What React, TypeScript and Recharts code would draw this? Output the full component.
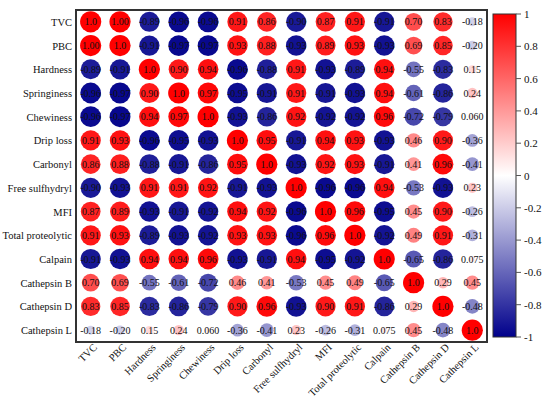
import React from "react";
import {
  ScatterChart, Scatter, XAxis, YAxis, CartesianGrid, ReferenceArea,
} from "recharts";

// variables, in the order used on both axes
const VARS = [
  "TVC", "PBC", "Hardness", "Springiness", "Chewiness", "Drip loss", "Carbonyl",
  "Free sulfhydryl", "MFI", "Total proteolytic", "Calpain", "Cathepsin B",
  "Cathepsin D", "Cathepsin L",
];

// correlation rows, as printed in the cells
const ROW_TVC = ["1.0", "1.00", "-0.89", "-0.96", "-0.96", "0.91", "0.86", "-0.90", "0.87", "0.91", "-0.91", "0.70", "0.83", "-0.18"];
const ROW_PBC = ["1.00", "1.0", "-0.91", "-0.97", "-0.97", "0.93", "0.88", "-0.93", "0.89", "0.93", "-0.93", "0.69", "0.85", "-0.20"];
const ROW_HARD = ["-0.89", "-0.91", "1.0", "0.90", "0.94", "-0.96", "-0.88", "0.91", "-0.93", "-0.89", "0.94", "-0.55", "-0.83", "0.15"];
const ROW_SPRING = ["-0.96", "-0.97", "0.90", "1.0", "0.97", "-0.95", "-0.91", "0.91", "-0.91", "-0.93", "0.94", "-0.61", "-0.86", "0.24"];
const ROW_CHEW = ["-0.96", "-0.97", "0.94", "0.97", "1.0", "-0.93", "-0.86", "0.92", "-0.92", "-0.92", "0.96", "-0.72", "-0.79", "0.060"];
const ROW_DRIP = ["0.91", "0.93", "-0.96", "-0.95", "-0.93", "1.0", "0.95", "-0.91", "0.94", "0.93", "-0.93", "0.46", "0.90", "-0.36"];
const ROW_CARB = ["0.86", "0.88", "-0.88", "-0.91", "-0.86", "0.95", "1.0", "-0.93", "0.92", "0.93", "-0.91", "0.41", "0.96", "-0.41"];
const ROW_SH = ["-0.90", "-0.93", "0.91", "0.91", "0.92", "-0.91", "-0.93", "1.0", "-0.96", "-0.96", "0.94", "-0.53", "-0.93", "0.23"];
const ROW_MFI = ["0.87", "0.89", "-0.93", "-0.91", "-0.92", "0.94", "0.92", "-0.96", "1.0", "0.96", "-0.95", "0.45", "0.90", "-0.26"];
const ROW_TP = ["0.91", "0.93", "-0.89", "-0.93", "-0.92", "0.93", "0.93", "-0.96", "0.96", "1.0", "-0.92", "0.49", "0.91", "-0.31"];
const ROW_CALP = ["-0.91", "-0.93", "0.94", "0.94", "0.96", "-0.93", "-0.91", "0.94", "-0.95", "-0.92", "1.0", "-0.65", "-0.86", "0.075"];
const ROW_CATB = ["0.70", "0.69", "-0.55", "-0.61", "-0.72", "0.46", "0.41", "-0.53", "0.45", "0.49", "-0.65", "1.0", "0.29", "0.45"];
const ROW_CATD = ["0.83", "0.85", "-0.83", "-0.86", "-0.79", "0.90", "0.96", "-0.93", "0.90", "0.91", "-0.86", "0.29", "1.0", "-0.48"];
const ROW_CATL = ["-0.18", "-0.20", "0.15", "0.24", "0.060", "-0.36", "-0.41", "0.23", "-0.26", "-0.31", "0.075", "0.45", "-0.48", "1.0"];

const ROWS = [ROW_TVC, ROW_PBC, ROW_HARD, ROW_SPRING, ROW_CHEW, ROW_DRIP, ROW_CARB,
  ROW_SH, ROW_MFI, ROW_TP, ROW_CALP, ROW_CATB, ROW_CATD, ROW_CATL];

const LEGEND_TICKS = [1, 0.8, 0.6, 0.4, 0.2, 0, -0.2, -0.4, -0.6, -0.8, -1];

const FONT = "Liberation Serif, Times New Roman, serif";
const R_MAX = 10.6;
const IDX = VARS.map((_, i) => i);
const EDGES = [...IDX.map((i) => i - 0.5), VARS.length - 0.5];

const data = ROWS.flatMap((row, i) =>
  row.map((label, j) => ({ x: j, y: i, v: parseFloat(label), label })),
);

function colorOf(v: number) {
  const a = Math.min(1, Math.abs(v));
  if (v >= 0) {
    const g = Math.round(255 * (1 - a));
    return `rgb(255,${g},${g})`;
  }
  const c = Math.round(255 * (1 - a));
  const b = Math.round(255 - (255 - 139) * a);
  return `rgb(${c},${c},${b})`;
}

const Cell = (props: any) => {
  const { cx, cy, payload } = props;
  const r = R_MAX * Math.sqrt(Math.abs(payload.v));
  return (
    <g>
      <circle cx={cx} cy={cy} r={r} fill={colorOf(payload.v)} />
      <text x={cx} y={cy} dy={3.5} textAnchor="middle" fontSize={10}
            fontFamily={FONT} fill="#111">{payload.label}</text>
    </g>
  );
};

const XTick = ({ x, y, payload }: any) => {
  const tx = x + 7;
  const ty = y + 6;
  return (
    <text x={tx} y={ty} transform={`rotate(-45 ${tx} ${ty})`} textAnchor="end"
          fontSize={10.5} fontFamily={FONT} fill="#111">{VARS[payload.value]}</text>
  );
};

const YTick = ({ x, y, payload }: any) => (
  <text x={x} y={y} dy={4} textAnchor="end" fontSize={10.5}
        fontFamily={FONT} fill="#111">{VARS[payload.value]}</text>
);

function ColorBar() {
  const top = 14, h = 323, left = 493, w = 23;
  const pos = (t: number) => top + ((1 - t) / 2) * h;
  return (
    <svg width={550} height={399} style={{ position: "absolute", left: 0, top: 0, pointerEvents: "none" }}>
      <defs>
        <linearGradient id="cbar" x1="0" y1="0" x2="0" y2="1">
          <stop offset="0%" stopColor={colorOf(1)} />
          <stop offset="50%" stopColor={colorOf(0)} />
          <stop offset="100%" stopColor={colorOf(-1)} />
        </linearGradient>
      </defs>
      <rect x={left} y={top} width={w} height={h} fill="url(#cbar)" stroke="#333" strokeWidth={1} />
      {LEGEND_TICKS.map((t) => (
        <g key={t}>
          <line x1={left + w} x2={left + w + 5} y1={pos(t)} y2={pos(t)} stroke="#555" />
          <text x={left + w + 8} y={pos(t)} dy={4} fontSize={11} fontFamily={FONT} fill="#111">{String(t)}</text>
        </g>
      ))}
    </svg>
  );
}

export default function App() {
  return (
    <div style={{ position: "absolute", left: 0, top: 0, width: 550, height: 399, background: "#fff" }}>
      <ScatterChart width={550} height={399} margin={{ top: 10, right: 63, bottom: 0, left: 0 }}>
        <XAxis xAxisId="edge" type="number" dataKey="x" domain={[-0.5, 13.5]} ticks={EDGES} hide />
        <YAxis yAxisId="edge" type="number" dataKey="y" domain={[-0.5, 13.5]} ticks={EDGES} reversed hide />
        <CartesianGrid xAxisId="edge" yAxisId="edge" stroke="#dcdcdc" />
        <XAxis type="number" dataKey="x" domain={[-0.5, 13.5]} ticks={IDX} interval={0}
               height={57} axisLine={false} tickLine={false} tickSize={0} tickMargin={0}
               tick={<XTick />} />
        <YAxis type="number" dataKey="y" domain={[-0.5, 13.5]} ticks={IDX} interval={0} reversed
               width={76} axisLine={false} tickLine={false} tickSize={2} tickMargin={2}
               tick={<YTick />} />
        <ReferenceArea x1={-0.5} x2={13.5} y1={-0.5} y2={13.5} fill="none"
                       stroke="#333" strokeWidth={2} ifOverflow="visible" />
        <Scatter data={data} shape={<Cell />} isAnimationActive={false} />
      </ScatterChart>
      <ColorBar />
    </div>
  );
}
